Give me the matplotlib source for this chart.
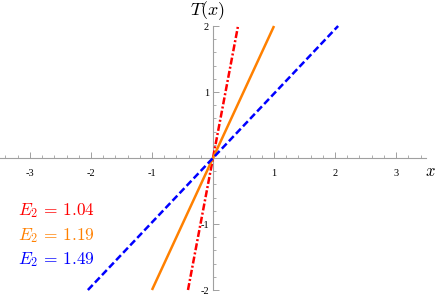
import matplotlib
matplotlib.use("Agg")
import matplotlib.pyplot as plt
import numpy as np
from matplotlib.ticker import MultipleLocator, FixedLocator

plt.rcParams['mathtext.fontset'] = 'cm'
plt.rcParams['font.family'] = ['Liberation Serif', 'DejaVu Serif']

# Data: endpoints of each line (x, T)
labels = [r'$E_2\,=\,1.04$', r'$E_2\,=\,1.19$', r'$E_2\,=\,1.49$']
colors = ['#ff0000', '#ff8000', '#0000ff']
styles = [(0, (2.8, 0.9, 0.8, 0.9)), '-', (0, (2.8, 1.3))]
line_x = [[-0.41, 0.41], [-1.0, 1.0], [-2.05, 2.05]]
line_y = [[-2.0, 2.0], [-2.0, 2.0], [-2.0, 2.0]]
xticks = [-3, -2, -1, 1, 2, 3]
yticks = [-2, -1, 1, 2]

fig = plt.figure(figsize=(4.36, 2.96), dpi=100)
ax = fig.add_axes([0.0, 6/296, 426/436, 264/296])
ax.set_xlim(-3.49, 3.49)
ax.set_ylim(-2, 2)

for xs, ys, c, ls in zip(line_x, line_y, colors, styles):
    ax.plot(xs, ys, color=c, linestyle=ls, lw=1.8, solid_capstyle='butt', clip_on=False)

for s in ['top', 'right']:
    ax.spines[s].set_visible(False)
ax.spines['left'].set_position(('data', 0))
ax.spines['bottom'].set_position(('data', 0))
axis_col = '#a0a0a0'
for s in ['left', 'bottom']:
    ax.spines[s].set_color(axis_col)
    ax.spines[s].set_linewidth(0.8)
    ax.spines[s].set_zorder(0)

ax.xaxis.set_major_locator(FixedLocator(xticks))
ax.yaxis.set_major_locator(FixedLocator(yticks))
ax.xaxis.set_minor_locator(MultipleLocator(0.2))
ax.yaxis.set_minor_locator(MultipleLocator(0.2))
ax.tick_params(axis='x', which='major', direction='in', length=4, width=0.7, color=axis_col, labelsize=7.5, pad=8)
ax.tick_params(axis='x', which='minor', direction='in', length=2.5, width=0.6, color=axis_col)
ax.tick_params(axis='y', which='major', direction='in', length=4, width=0.7, color=axis_col, labelsize=7.5, pad=3)
ax.tick_params(axis='y', which='minor', direction='in', length=2.5, width=0.6, color=axis_col)
ax.set_xticklabels(['-3', '-2', '-1', '1', '2', '3'])
ax.set_yticklabels(['-2', '-1', '1', '2'])
ax.patch.set_visible(False)

fig.text(208/436, 1 - 11/296, r'$T(x)$', ha='center', va='center', fontsize=13)
fig.text(430/436, 1 - 172/296, r'$x$', ha='center', va='center', fontsize=12)

for i, (lab, c) in enumerate(zip(labels, colors)):
    fig.text(18/436, 1 - (211 + 24.5*i)/296, lab, color=c, ha='left', va='center', fontsize=12.5)

fig.savefig('out.png', dpi=100)
